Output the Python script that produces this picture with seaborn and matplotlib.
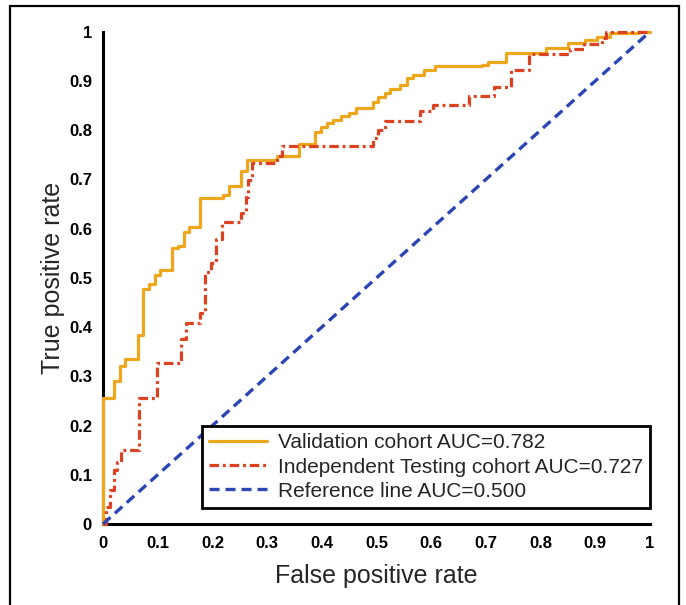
import numpy as np
import pandas as pd
import matplotlib
matplotlib.use("Agg")
import matplotlib.pyplot as plt
from matplotlib.patches import Rectangle
import seaborn as sns

# -------------------
# DATA
# -------------------
# step corners: x where the curve rises, and the new TPR level
val_fpr = [0.0, 0.0, 0.021, 0.031, 0.040, 0.064, 0.073, 0.084, 0.095, 0.104,
           0.126, 0.137, 0.148, 0.158, 0.177, 0.220, 0.230, 0.252, 0.263, 0.318,
           0.359, 0.388, 0.398, 0.409, 0.421, 0.436, 0.450, 0.463, 0.494, 0.503,
           0.516, 0.525, 0.543, 0.555, 0.566, 0.586, 0.607, 0.692, 0.704, 0.737,
           0.810, 0.851, 0.881, 0.903, 0.927, 0.978, 1.0]
val_tpr = [0.0, 0.255, 0.291, 0.320, 0.335, 0.384, 0.477, 0.487, 0.506, 0.516,
           0.560, 0.565, 0.594, 0.604, 0.662, 0.669, 0.686, 0.718, 0.740, 0.747,
           0.772, 0.796, 0.806, 0.814, 0.821, 0.828, 0.835, 0.845, 0.858, 0.868,
           0.875, 0.884, 0.892, 0.906, 0.913, 0.923, 0.930, 0.933, 0.938, 0.957,
           0.967, 0.977, 0.984, 0.990, 0.997, 1.0, 1.0]

test_fpr = [0.0, 0.006, 0.012, 0.020, 0.026, 0.033, 0.065, 0.099, 0.142, 0.152,
            0.177, 0.186, 0.198, 0.207, 0.218, 0.252, 0.261, 0.265, 0.272, 0.318,
            0.327, 0.494, 0.503, 0.516, 0.580, 0.604, 0.670, 0.715, 0.745, 0.779,
            0.854, 0.880, 0.912, 0.920, 1.0]
test_tpr = [0.0, 0.035, 0.070, 0.110, 0.125, 0.150, 0.255, 0.327, 0.375, 0.409,
            0.428, 0.511, 0.530, 0.579, 0.614, 0.632, 0.665, 0.699, 0.734, 0.747,
            0.767, 0.784, 0.800, 0.819, 0.838, 0.852, 0.870, 0.887, 0.923, 0.955,
            0.965, 0.975, 0.988, 1.0, 1.0]

ref_fpr = [0.0, 1.0]
ref_tpr = [0.0, 1.0]

labels = ["Validation cohort AUC=0.782",
          "Independent Testing cohort AUC=0.727",
          "Reference line AUC=0.500"]
ticks = [0, 0.1, 0.2, 0.3, 0.4, 0.5, 0.6, 0.7, 0.8, 0.9, 1]
tick_labels = ["0", "0.1", "0.2", "0.3", "0.4", "0.5", "0.6", "0.7", "0.8", "0.9", "1"]

# -------------------
# STYLE
# -------------------
sns.set_style("white")
plt.rcParams['font.family'] = ['Liberation Sans', 'DejaVu Sans']

fig = plt.figure(figsize=(6.86, 6.05), dpi=100)
ax = fig.add_axes([103 / 686, 1 - 524 / 605, 547 / 686, 492.3 / 605])

val_df = pd.DataFrame({"fpr": val_fpr, "tpr": val_tpr})
test_df = pd.DataFrame({"fpr": test_fpr, "tpr": test_tpr})
ref_df = pd.DataFrame({"fpr": ref_fpr, "tpr": ref_tpr})

sns.lineplot(data=val_df, x="fpr", y="tpr", ax=ax, sort=False, estimator=None,
             drawstyle="steps-post", color="#EDA71C", lw=2.3, label=labels[0],
             clip_on=False, zorder=4)
sns.lineplot(data=test_df, x="fpr", y="tpr", ax=ax, sort=False, estimator=None,
             drawstyle="steps-post", color="#DA4222", lw=2.3,
             linestyle=(0, (3.0, 1.2, 0.9, 1.2)), label=labels[1],
             clip_on=False, zorder=4)
sns.lineplot(data=ref_df, x="fpr", y="tpr", ax=ax, sort=False, estimator=None,
             color="#2B45B5", lw=2.4, linestyle=(0, (3.0, 1.8)), label=labels[2],
             clip_on=False, zorder=4)

ax.set_xlim(0, 1)
ax.set_ylim(0, 1)
ax.set_xticks(ticks)
ax.set_yticks(ticks)
ax.set_xticklabels(tick_labels, fontweight="bold")
ax.set_yticklabels(tick_labels, fontweight="bold")
ax.tick_params(direction="in", length=5, width=1.6, labelsize=12, colors="black")
ax.tick_params(axis="x", pad=9)
ax.tick_params(axis="y", pad=8)

sns.despine(ax=ax)
for side in ["left", "bottom"]:
    ax.spines[side].set_linewidth(2.2)
    ax.spines[side].set_color("black")

ax.set_xlabel("False positive rate", fontsize=18, labelpad=9)
ax.set_ylabel("True positive rate", fontsize=18, labelpad=3)

leg = ax.legend(loc="lower right", bbox_to_anchor=(1.0, 0.0325), borderaxespad=0,
                fontsize=15, frameon=True, fancybox=False, framealpha=1,
                edgecolor="black", handlelength=2.8, handletextpad=0.5,
                labelspacing=0.25, borderpad=0.35)
leg.get_frame().set_linewidth(2.0)

# outer frame around the whole picture
fig.add_artist(Rectangle((10 / 686, -0.1), 669 / 686, 1.1 - 6.5 / 605,
                         transform=fig.transFigure, fill=False,
                         edgecolor="black", linewidth=1.6))

fig.savefig("out.png", dpi=100)
